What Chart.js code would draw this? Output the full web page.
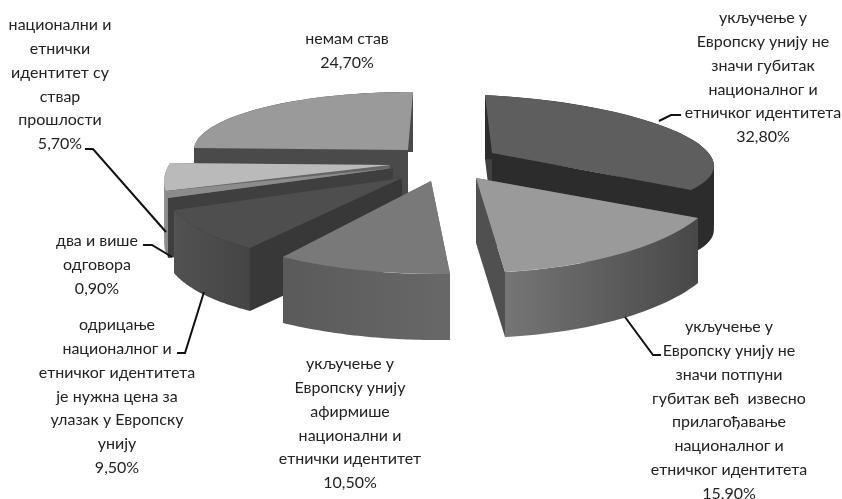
<!DOCTYPE html>
<html>
<head>
<meta charset="utf-8">
<style>
  html, body { margin: 0; padding: 0; background: #fff; }
  canvas { display: block; }
</style>
<script src="https://cdn.jsdelivr.net/npm/chart.js@4"></script>
</head>
<body>
<canvas id="pie" width="842" height="499"></canvas>
<script>
const categories = [
    ['укључење у', 'Европску унију не', 'значи губитак', 'националног и', 'етничког идентитета'],
    ['укључење у', 'Европску унију не', 'значи потпуни', 'губитак већ  извесно', 'прилагођавање', 'националног и', 'етничког идентитета'],
    ['укључење у', 'Европску унију', 'афирмише', 'национални и', 'етнички идентитет'],
    ['одрицање', 'националног и', 'етничког идентитета', 'је нужна цена за', 'улазак у Европску', 'унију'],
    ['два и више', 'одговора'],
    ['национални и', 'етнички', 'идентитет су', 'ствар', 'прошлости'],
    ['немам став']
];
const values = [32.8, 15.9, 10.5, 9.5, 0.9, 5.7, 24.7];

// top colours of the slices
const topColors = ['#5e5e5e', '#9a9a9a', '#797979', '#4e4e4e', '#8c8c8c', '#bababa', '#9a9a9a'];

// where each slice lands on the page: apex, arc start, arc end, wall height
const placement = [
    { a: [492, 153], s: [485, 95], e: [691, 190], depth: 64 },
    { a: [476, 178], s: [698, 218], e: [505, 272], depth: 65 },
    { a: [431, 181], s: [450, 274], e: [283, 257], depth: 66 },
    { a: [402, 178], s: [250, 248], e: [174, 210], depth: 63 },
    { a: [393, 168], s: [168, 198], e: [166, 191], depth: 60 },
    { a: [390, 165], s: [166, 191], e: [170, 163], depth: 62 },
    { a: [408, 150], s: [194, 148], e: [413, 92], depth: 60 }
];
// wall colours: start edge, end edge, outer gradient
const walls = [
    { start: '#414141', end: '#2c2c2c', outer: ['#2c2c2c', '#2c2c2c'] },
    { start: '#505050', end: '#505050', outer: ['#757575', '#484848'] },
    { start: '#666666', end: '#666666', outer: ['#5a5a5a', '#686868'] },
    { start: '#383838', end: '#383838', outer: ['#525252', '#444444'] },
    { start: '#3f3f3f', end: '#6a6a6a', outer: ['#8a8a8a', '#8a8a8a'] },
    { start: '#666666', end: '#666666', outer: ['#909090', '#909090'] },
    { start: '#4a4a4a', end: '#ffffff', outer: ['#4a4a4a', '#4a4a4a'] }
];
const drawOrder = [6, 0, 5, 4, 3, 2, 1];

// label centre x and centre y of first line
const labelPos = [
    [763, 18], [729, 327], [350, 364], [117, 325], [97, 241], [60, 25], [347, 39]
];
const lineStep = 23.8;
const leaders = [
    [[659, 121], [671, 115], [681, 115]],
    [[625, 317], [653, 355], [661, 355]],
    [[204, 292], [185, 353], [177, 353]],
    [[143, 245], [152, 245], [172, 257]],
    [[85, 149], [93, 149], [166, 232]]
];

function sliceMatrix(el, p) {
    const sx = Math.cos(el.startAngle), sy = Math.sin(el.startAngle);
    const ex = Math.cos(el.endAngle), ey = Math.sin(el.endAngle);
    const det = sx * ey - ex * sy;
    const dsx = p.s[0] - p.a[0], dsy = p.s[1] - p.a[1];
    const dex = p.e[0] - p.a[0], dey = p.e[1] - p.a[1];
    // columns of the matrix that maps the unit circle to the page
    const ax = (dsx * ey - dex * sy) / det, ay = (dsy * ey - dey * sy) / det;
    const bx = (dex * sx - dsx * ex) / det, by = (dey * sx - dsy * ex) / det;
    return { ax, ay, bx, by };
}

function fillPoly(ctx, pts, fill) {
    ctx.beginPath();
    pts.forEach((pt, i) => i ? ctx.lineTo(pt[0], pt[1]) : ctx.moveTo(pt[0], pt[1]));
    ctx.closePath();
    ctx.fillStyle = fill;
    ctx.fill();
}

function drawWalls(ctx, el, m, p, w) {
    const d = p.depth;
    // end edge first, the start edge sits lower on the left-hand slices
    fillPoly(ctx, [p.a, p.e, [p.e[0], p.e[1] + d], [p.a[0], p.a[1] + d]], w.end);
    fillPoly(ctx, [p.a, p.s, [p.s[0], p.s[1] + d], [p.a[0], p.a[1] + d]], w.start);

    const arc = [];
    const steps = 40;
    for (let i = 0; i <= steps; i++) {
        const t = el.startAngle + (el.endAngle - el.startAngle) * i / steps;
        arc.push([p.a[0] + m.ax * Math.cos(t) + m.bx * Math.sin(t),
                  p.a[1] + m.ay * Math.cos(t) + m.by * Math.sin(t)]);
    }
    const xs = arc.map(pt => pt[0]);
    const grad = ctx.createLinearGradient(Math.min(...xs), 0, Math.max(...xs), 0);
    grad.addColorStop(0, w.outer[0]);
    grad.addColorStop(1, w.outer[1]);

    // split where the arc turns back in x, a folded ribbon would cancel itself out
    let from = 0;
    for (let i = 1; i <= steps; i++) {
        const turned = i < steps && (arc[i][0] - arc[i - 1][0]) * (arc[i + 1][0] - arc[i][0]) < 0;
        if (turned || i === steps) {
            const part = arc.slice(from, i + 1);
            const lower = part.slice().reverse().map(pt => [pt[0], pt[1] + d]);
            fillPoly(ctx, part.concat(lower), grad);
            from = i;
        }
    }
}

const tiltedPie = {
    id: 'tiltedPie',
    beforeDatasetDraw(chart) {
        const ctx = chart.ctx;
        const arcs = chart.getDatasetMeta(0).data;
        drawOrder.forEach((i) => {
            const el = arcs[i];
            const p = placement[i];
            const m = sliceMatrix(el, p);
            drawWalls(ctx, el, m, p, walls[i]);
            const R = el.outerRadius;
            const a = m.ax / R, b = m.ay / R, c = m.bx / R, d = m.by / R;
            ctx.save();
            ctx.transform(a, b, c, d, p.a[0] - a * el.x - c * el.y, p.a[1] - b * el.x - d * el.y);
            el.draw(ctx);
            ctx.restore();
        });
        return false;
    },
    afterDraw(chart) {
        const ctx = chart.ctx;
        ctx.save();
        ctx.strokeStyle = '#111';
        ctx.lineWidth = 2;
        leaders.forEach((line) => {
            ctx.beginPath();
            line.forEach((pt, i) => i ? ctx.lineTo(pt[0], pt[1]) : ctx.moveTo(pt[0], pt[1]));
            ctx.stroke();
        });
        ctx.fillStyle = '#222';
        ctx.font = '16px Lato, "Open Sans", sans-serif';
        ctx.textAlign = 'center';
        ctx.textBaseline = 'middle';
        categories.forEach((lines, i) => {
            const pct = values[i].toFixed(2).replace('.', ',') + '%';
            lines.concat(pct).forEach((txt, j) => {
                ctx.fillText(txt, labelPos[i][0], labelPos[i][1] + j * lineStep);
            });
        });
        ctx.restore();
    }
};

new Chart(document.getElementById('pie'), {
    type: 'pie',
    data: {
        labels: categories.map(lines => lines.join(' ')),
        datasets: [{
            data: values,
            backgroundColor: topColors,
            borderWidth: 0
        }]
    },
    options: {
        responsive: false,
        animation: false,
        plugins: {
            legend: { display: false },
            tooltip: { enabled: false }
        }
    },
    plugins: [tiltedPie]
});
</script>
</body>
</html>
